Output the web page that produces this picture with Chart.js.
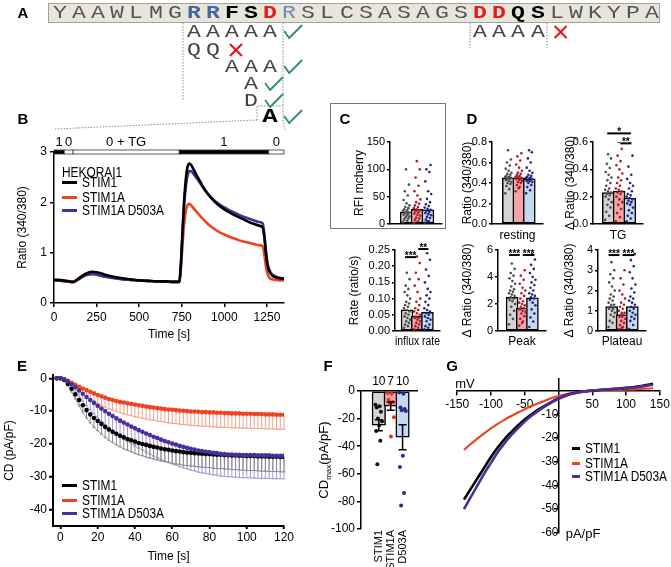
<!DOCTYPE html>
<html><head><meta charset="utf-8">
<script src="https://cdn.jsdelivr.net/npm/chart.js@4.4.1/dist/chart.umd.min.js"></script>
<style>
html,body{margin:0;padding:0;background:#fff;overflow:hidden}
#fig{position:relative;width:671px;height:567px;overflow:hidden;font-family:'Liberation Sans',Arial,sans-serif;color:#000}
.t{position:absolute;white-space:nowrap;line-height:1;font-size:14px;z-index:3}
.pl{position:absolute;font-weight:bold;font-size:15px;font-family:'Liberation Sans',Arial,sans-serif;line-height:1;transform:translate(-50%,-50%);z-index:3}
.seqbox{position:absolute;left:48px;top:3px;width:612px;height:20px;background:#e8e5da;border:1px solid #a5a399;box-sizing:border-box}
.lt{position:absolute;width:20px;height:24px;line-height:24px;text-align:center;font-family:'Liberation Mono','DejaVu Sans Mono',monospace;font-size:19px;color:#555;transform:scaleX(1.22);z-index:3}
.rr{color:#4767a0;font-weight:bold}
.bk{color:#000;font-weight:bold}
.rd{color:#e31b1b;font-weight:bold}
.rl{color:#7089b8}
.bA{color:#000;font-weight:bold;font-size:21px}
.lg{position:absolute;height:3px;z-index:3}
canvas{position:absolute;z-index:1}
</style></head>
<body>
<div id="fig">
<div class="seqbox"></div>
<div style="position:absolute;left:330px;top:103px;width:116px;height:126px;border:1px solid #777;box-sizing:border-box"></div>
<svg id="ov" width="671" height="567" style="position:absolute;left:0;top:0;z-index:2"></svg>
</div>
<script>
// ================= DATA =================
// Panel A
const seq = 'YAAWLMGRRFSDRSLCSASAGSDDQSLWKYPA';
const mutRows = [
  {aa:'AAAAA', start:7,  ok:true},
  {aa:'QQ',    start:7,  ok:false},
  {aa:'AAA',   start:9,  ok:true},
  {aa:'A',     start:10, ok:true},
  {aa:'D',     start:10, ok:true},
  {aa:'A',     start:11, ok:true},
  {aa:'AAAA',  start:22, ok:false}
];
// Panel B
const bTime  = [0,25,50,75,100,115,125,150,175,200,225,250,275,300,350,400,450,500,550,600,650,700,735,745,755,765,775,785,795,805,820,840,860,880,900,925,950,975,1000,1025,1050,1075,1100,1125,1150,1175,1200,1225,1235,1245,1255,1265,1280,1300,1325,1350];
const bStim1 = [0.46,0.46,0.45,0.44,0.42,0.42,0.44,0.50,0.56,0.60,0.62,0.61,0.59,0.56,0.52,0.49,0.47,0.45,0.44,0.43,0.43,0.42,0.42,0.80,1.50,2.10,2.50,2.72,2.77,2.74,2.65,2.52,2.40,2.28,2.18,2.08,1.99,1.92,1.86,1.81,1.76,1.72,1.68,1.64,1.60,1.57,1.54,1.50,1.30,0.95,0.72,0.62,0.55,0.51,0.49,0.48];
const bStim1A = [0.45,0.45,0.44,0.43,0.42,0.42,0.44,0.50,0.56,0.59,0.60,0.59,0.57,0.54,0.50,0.48,0.46,0.45,0.44,0.43,0.43,0.42,0.42,0.70,1.20,1.60,1.85,1.95,1.97,1.94,1.88,1.80,1.72,1.65,1.58,1.51,1.45,1.40,1.36,1.32,1.29,1.26,1.23,1.21,1.19,1.17,1.15,1.13,0.95,0.70,0.56,0.50,0.47,0.46,0.45,0.45];
const bD503A = [0.45,0.45,0.44,0.43,0.42,0.42,0.43,0.48,0.53,0.56,0.57,0.56,0.54,0.52,0.49,0.47,0.46,0.45,0.44,0.43,0.43,0.42,0.42,0.75,1.40,2.00,2.35,2.55,2.62,2.62,2.56,2.47,2.37,2.27,2.18,2.09,2.01,1.95,1.90,1.85,1.81,1.77,1.73,1.70,1.67,1.64,1.61,1.58,1.35,1.00,0.76,0.65,0.57,0.53,0.50,0.49];
const bXTicks = [0,250,500,750,1000,1250];
const bYTicks = [0,1,2,3];
const solEdges  = [0,60,112,735,1260,1350];
const solOn     = [1,0,0,1,0];
const solLabels = ['1','0','0 + TG','1','0'];
// Panel C
const cMeans = [22,27,26];
const cDots = [
  [3,6,8,10,12,14,15,17,18,20,21,22,24,25,27,29,31,34,38,44,52,60,72,100],
  [2,5,8,10,12,15,17,19,21,23,25,27,29,31,34,37,40,45,52,60,70,85,100,115],
  [2,5,8,11,13,16,18,20,22,24,26,28,30,33,36,40,46,55,60,78,95,100,108,5]
];
const cYTicks = [0,50,100,150];
// Panel D
const restMeans = [0.45,0.45,0.44];
const restDots = [
  [0.30,0.34,0.37,0.39,0.40,0.41,0.42,0.43,0.44,0.44,0.45,0.45,0.46,0.46,0.47,0.48,0.49,0.50,0.52,0.54,0.57,0.60,0.63,0.72],
  [0.32,0.36,0.38,0.40,0.41,0.42,0.43,0.44,0.44,0.45,0.45,0.46,0.46,0.47,0.48,0.49,0.50,0.52,0.55,0.58,0.62,0.66,0.69,0.35],
  [0.30,0.33,0.36,0.38,0.40,0.41,0.42,0.42,0.43,0.43,0.44,0.44,0.45,0.45,0.46,0.47,0.48,0.50,0.52,0.55,0.60,0.64,0.70,0.72]
];
const restYTicks = [0,0.2,0.4,0.6,0.8];
const tgMeans = [0.23,0.24,0.19];
const tgDots = [
  [0.03,0.06,0.09,0.12,0.14,0.16,0.18,0.20,0.21,0.22,0.23,0.24,0.25,0.26,0.28,0.30,0.32,0.34,0.36,0.38,0.41,0.44,0.48,0.51],
  [0.02,0.05,0.08,0.11,0.14,0.16,0.18,0.20,0.22,0.23,0.24,0.25,0.26,0.28,0.30,0.32,0.34,0.37,0.40,0.43,0.46,0.50,0.55,0.60],
  [0.02,0.04,0.06,0.08,0.10,0.12,0.14,0.15,0.16,0.17,0.18,0.19,0.20,0.21,0.22,0.24,0.26,0.28,0.30,0.33,0.36,0.42,0.50,0.60]
];
const tgYTicks = [0,0.2,0.4,0.6];
const tgSig = [{a:-0.1,b:2.1,y:0.663,t:'*'},{a:1.1,b:2.15,y:0.59,t:'**'}];
const rateMeans = [0.065,0.045,0.058];
const rateDots = [
  [0.010,0.015,0.020,0.025,0.030,0.035,0.040,0.045,0.050,0.055,0.060,0.065,0.070,0.075,0.080,0.085,0.090,0.100,0.110,0.120,0.130,0.140,0.160,0.180],
  [0.005,0.010,0.015,0.020,0.025,0.030,0.035,0.040,0.040,0.045,0.050,0.055,0.060,0.065,0.070,0.080,0.090,0.100,0.120,0.140,0.160,0.180,0.210,0.230],
  [0.005,0.010,0.015,0.020,0.030,0.035,0.040,0.045,0.050,0.055,0.060,0.065,0.070,0.080,0.090,0.100,0.110,0.120,0.130,0.150,0.170,0.190,0.220,0.240]
];
const rateYTicks = [0,0.05,0.10,0.15,0.20,0.25];
const rateSig = [{a:-0.2,b:0.9,y:0.228,t:'***'},{a:1.1,b:2.1,y:0.253,t:'**'}];
const peakMeans = [2.5,1.7,2.45];
const peakDots = [
  [0.5,0.9,1.2,1.5,1.8,2.0,2.2,2.3,2.4,2.5,2.6,2.7,2.8,2.9,3.0,3.1,3.3,3.5,3.7,3.9,4.1,4.3,4.6,5.0],
  [0.4,0.7,0.9,1.1,1.3,1.4,1.5,1.6,1.7,1.8,1.9,2.0,2.1,2.2,2.4,2.6,2.8,3.0,3.2,3.5,3.8,4.1,4.5,0.6],
  [0.3,0.7,1.0,1.3,1.6,1.9,2.1,2.3,2.4,2.5,2.6,2.7,2.8,3.0,3.2,3.4,3.6,3.8,4.0,4.3,4.6,4.9,5.3,5.7]
];
const peakYTicks = [0,2,4,6];
const peakSig = [{a:-0.3,b:0.75,y:5.63,t:'***'},{a:1.05,b:2.2,y:5.63,t:'***'}];
const platMeans = [1.2,0.8,1.2];
const platDots = [
  [0.2,0.4,0.5,0.7,0.8,0.9,1.0,1.1,1.1,1.2,1.3,1.3,1.4,1.5,1.6,1.7,1.8,2.0,2.2,2.4,2.6,2.8,3.0,3.4],
  [0.1,0.2,0.3,0.4,0.5,0.6,0.7,0.7,0.8,0.8,0.9,0.9,1.0,1.1,1.2,1.3,1.4,1.6,1.8,2.0,2.3,2.6,3.0,0.15],
  [0.1,0.3,0.5,0.6,0.7,0.8,0.9,1.0,1.1,1.2,1.3,1.4,1.5,1.6,1.7,1.9,2.1,2.3,2.6,2.9,3.2,3.5,3.8,4.0]
];
const platYTicks = [0,1,2,3,4];
const platSig = [{a:-0.3,b:0.75,y:3.75,t:'***'},{a:1.05,b:2.2,y:3.75,t:'***'}];
// Panel E
const eTime = [-2,0,2,4,6,8,10,12,14,16,18,20,22,24,26,28,30,32,34,36,38,40,42,44,46,48,50,52,54,56,58,60,62,64,66,68,70,72,74,76,78,80,82,84,86,88,90,92,94,96,98,100,102,104,106,108,110,112,114,116,118,120];
const eStim1 = [0,0,-0.5,-1.7,-3.2,-4.9,-6.6,-8.2,-9.7,-11.0,-12.1,-13.0,-13.9,-14.8,-15.6,-16.3,-16.9,-17.5,-18.0,-18.5,-18.9,-19.3,-19.7,-20.0,-20.3,-20.6,-20.9,-21.1,-21.4,-21.6,-21.8,-22.0,-22.2,-22.3,-22.5,-22.6,-22.7,-22.8,-22.9,-23.0,-23.1,-23.1,-23.2,-23.3,-23.3,-23.4,-23.4,-23.5,-23.5,-23.6,-23.6,-23.7,-23.7,-23.7,-23.8,-23.8,-23.8,-23.9,-23.9,-23.9,-24.0,-24.0];
const eStim1Sem = [0,0,0.3,0.6,1.0,1.4,1.8,2.1,2.4,2.6,2.8,3.0,3.1,3.2,3.3,3.3,3.4,3.4,3.5,3.5,3.5,3.6,3.6,3.6,3.7,3.7,3.7,3.8,3.8,3.8,3.8,3.9,3.9,3.9,4.0,4.0,4.0,4.0,4.1,4.1,4.1,4.1,4.2,4.2,4.2,4.2,4.3,4.3,4.3,4.3,4.4,4.4,4.4,4.4,4.4,4.5,4.5,4.5,4.5,4.5,4.5,4.5];
const eStim1A = [0,0,-0.3,-0.8,-1.4,-2.0,-2.6,-3.1,-3.6,-4.1,-4.6,-5.1,-5.5,-5.9,-6.3,-6.6,-6.9,-7.2,-7.4,-7.6,-7.8,-8.0,-8.2,-8.4,-8.6,-8.8,-8.9,-9.1,-9.2,-9.4,-9.5,-9.6,-9.7,-9.8,-9.9,-10.0,-10.1,-10.1,-10.2,-10.3,-10.3,-10.4,-10.4,-10.5,-10.5,-10.6,-10.6,-10.7,-10.7,-10.7,-10.8,-10.8,-10.8,-10.9,-10.9,-10.9,-11.0,-11.0,-11.0,-11.1,-11.1,-11.1];
const eStim1ASem = [0,0,0.2,0.5,0.8,1.1,1.4,1.7,1.9,2.1,2.3,2.5,2.7,2.9,3.0,3.1,3.2,3.3,3.4,3.5,3.6,3.7,3.7,3.8,3.8,3.9,3.9,4.0,4.0,4.0,4.1,4.1,4.1,4.2,4.2,4.2,4.2,4.3,4.3,4.3,4.3,4.3,4.4,4.4,4.4,4.4,4.4,4.4,4.4,4.4,4.4,4.4,4.4,4.4,4.4,4.4,4.4,4.4,4.4,4.4,4.4,4.4];
const eD503A = [0,0,-0.3,-1.0,-1.8,-2.7,-3.7,-4.7,-5.7,-6.6,-7.5,-8.4,-9.2,-10.0,-10.8,-11.5,-12.2,-12.9,-13.5,-14.1,-14.7,-15.2,-15.8,-16.3,-16.8,-17.3,-17.8,-18.2,-18.7,-19.1,-19.5,-19.9,-20.2,-20.6,-20.9,-21.2,-21.5,-21.7,-22.0,-22.2,-22.4,-22.5,-22.7,-22.8,-23.0,-23.1,-23.2,-23.2,-23.3,-23.3,-23.4,-23.4,-23.4,-23.4,-23.5,-23.5,-23.5,-23.5,-23.6,-23.6,-23.6,-23.6];
const eD503ASem = [0,0,0.3,0.7,1.1,1.5,1.9,2.3,2.7,3.0,3.3,3.6,3.9,4.1,4.3,4.5,4.7,4.9,5.0,5.2,5.3,5.4,5.5,5.6,5.7,5.8,5.9,6.0,6.0,6.1,6.2,6.2,6.3,6.3,6.4,6.4,6.5,6.5,6.6,6.6,6.6,6.7,6.7,6.7,6.8,6.8,6.8,6.8,6.9,6.9,6.9,6.9,6.9,7.0,7.0,7.0,7.0,7.0,7.0,7.0,7.0,7.0];
const eXTicks = [0,20,40,60,80,100,120];
const eYTicks = [-40,-30,-20,-10,0];
// Panel F
const fLabels = ['STIM1','STIM1A','D503A'];
const fMeans = [-24.8,-11,-33.5];
const fSem = [4,3,9];
const fN = [10,7,10];
const fDots = [
  [-10,-11,-12,-15,-20,-22,-25,-29,-36,-53],
  [-1.5,-2,-6.5,-8,-9.5,-19,-33],
  [-1,-2,-12,-13,-14,-14.5,-47,-55,-74,-83]
];
const fYTicks = [-100,-80,-60,-40,-20,0];
// Panel G
const gV = [-140,-130,-120,-110,-100,-90,-80,-70,-60,-50,-40,-30,-20,-10,0,10,20,30,40,50,60,70,80,90,100,110,120,130,140];
const gStim1 = [-46,-41.5,-37,-32.5,-28,-24,-20.5,-17.5,-14.7,-12.2,-10,-8,-6.3,-4.7,-3.3,-2.1,-1.2,-0.6,-0.2,0.1,0.3,0.5,0.7,0.9,1.2,1.5,1.9,2.4,2.9];
const gStim1A = [-25,-22.5,-20.2,-18,-15.9,-14,-12.3,-10.7,-9.2,-7.8,-6.5,-5.3,-4.2,-3.1,-2.2,-1.5,-1.0,-0.7,-0.4,-0.2,0,0.1,0.3,0.4,0.5,0.6,0.8,0.9,1.0];
const gD503A = [-50,-45,-40,-35,-30.5,-26,-22.2,-18.8,-15.8,-13,-10.6,-8.5,-6.6,-4.9,-3.4,-2.2,-1.3,-0.6,-0.2,0.1,0.3,0.5,0.7,0.9,1.1,1.4,1.7,2.1,2.5];
const gXTicks = [-150,-100,-50,50,100,150];
const gYTicks = [-60,-50,-40,-30,-20,-10];

// ================= STYLE / HELPERS =================
const FN = "'Liberation Sans',Arial,sans-serif";
const FS = 12;
const RED = '#f0421f', PUR = '#4a2e9c', BLK = '#000';
const BAR_FILL = ['#d4d4d4','#f4a4a4','#c4d8f2'];
const DOT_COL = ['#4d4d4d','#a3202c','#25257a'];
const F_DOT = ['#111111','#e8321e','#2f2590'];
Chart.defaults.font.family = FN;
Chart.defaults.font.size = FS;
Chart.defaults.color = '#000';
Chart.defaults.animation = false;

const fig = document.getElementById('fig');
const svg = document.getElementById('ov');
const NS = 'http://www.w3.org/2000/svg';
function sv(tag, attrs){ const e=document.createElementNS(NS,tag); for(const k in attrs) e.setAttribute(k,attrs[k]); svg.appendChild(e); return e; }
function div(cls, text, css){ const d=document.createElement('div'); d.className=cls; if(text!=null) d.textContent=text; d.style.cssText=css||''; fig.appendChild(d); return d; }
function place(left, top, width, height){
  const c=document.createElement('canvas'); c.width=width; c.height=height;
  c.style.left=left+'px'; c.style.top=top+'px'; c.style.width=width+'px'; c.style.height=height+'px';
  fig.appendChild(c); return c;
}
const jit = j => (((j*7)%12)/11 - 0.5);

function ax(o){
  const a = {
    type:'linear', axis:o.axis, position:o.position||(o.axis==='x'?'bottom':'left'), min:o.min, max:o.max,
    afterBuildTicks: s => { s.ticks = o.ticks.map(v=>({value:v})); },
    ticks:{ display:o.labels!==false, padding:o.pad!=null?o.pad:3, font:{size:o.tfs||FS}, callback:o.fmt||(v=>v), autoSkip:false,
            maxRotation:o.rot||0, minRotation:o.rot||0 },
    grid:{ display:true, drawOnChartArea:!!o.gridColor, color:o.gridColor||'rgba(0,0,0,0)', lineWidth:1.5,
           drawTicks:o.drawTicks!==false, tickLength:o.tl!=null?o.tl:4, tickColor:'#000', tickWidth:o.bw||1.5 },
    border:{ display:o.border!==false, color:'#000', width:o.bw||1.5 },
    title: o.title ? {display:true, text:o.title, font:{size:FS}, padding:{top:o.tpad||0, bottom:o.tpad||0}} : {display:false}
  };
  if (o.size!=null) a.afterFit = (o.axis==='x') ? (s=>{ s.height=o.size; }) : (s=>{ s.width=o.size; });
  return a;
}

const sigPlugin = { id:'sig', afterDraw(chart){
  const sig = chart.options.plugins.sig && chart.options.plugins.sig.items; if(!sig) return;
  const {ctx, scales:{x,y}} = chart;
  ctx.save(); ctx.strokeStyle='#000'; ctx.fillStyle='#000'; ctx.lineWidth=2;
  ctx.font='bold 10px '+FN; ctx.textAlign='center'; ctx.textBaseline='alphabetic';
  sig.forEach(s=>{ const x0=x.getPixelForValue(s.a), x1=x.getPixelForValue(s.b), py=y.getPixelForValue(s.y);
    ctx.beginPath(); ctx.moveTo(x0,py); ctx.lineTo(x1,py); ctx.stroke();
    ctx.fillText(s.t,(x0+x1)/2,py+2); });
  ctx.restore();
}};

function barPanel(o){
  const ds = o.dots.map((arr,g)=>({type:'scatter', order:1,
    data: arr.map((v,j)=>({x:g+jit(j)*0.6, y:v})), pointRadius:1.3, pointBorderWidth:0, borderWidth:0,
    backgroundColor:DOT_COL[g], pointHoverRadius:0}));
  ds.push({type:'bar', order:2, data:o.means.map((v,g)=>({x:g,y:v})), backgroundColor:BAR_FILL,
    borderColor:'#000', borderWidth:1.5, barThickness:12, borderSkipped:false});
  new Chart(place(o.left,o.top,o.width,o.height), {
    type:'scatter', data:{datasets:ds},
    options:{ responsive:false, animation:false,
      layout:{padding:{top:o.padTop, right:o.padRight, left:0, bottom:0}},
      scales:{
        x: ax({axis:'x', min:o.xmin, max:o.xmax, ticks:[0,1,2], labels:false, drawTicks:false, size:o.xH, title:o.xTitle}),
        y: ax({axis:'y', min:0, max:o.ymax, ticks:o.yTicks, fmt:o.fmt, size:o.yW, title:o.yTitle, tpad:o.tpad, tfs:11, pad:2, tl:3})
      },
      plugins:{legend:{display:false}, tooltip:{enabled:false}, sig:{items:o.sig||null}} },
    plugins:[sigPlugin]
  });
}

// ================= PANEL A =================
const seqClass = {7:'rr',8:'rr',9:'bk',10:'bk',11:'rd',12:'rl',22:'rd',23:'rd',24:'bk',25:'bk'};
const colX = i => 60 + 19.1*i;
for (let i=0;i<seq.length;i++){
  div('lt '+(seqClass[i]||''), seq[i], `left:${colX(i)-10}px;top:${13-12}px`);
}
const rowY = [32,50,67,84,101,117,32];
mutRows.forEach((r,ri)=>{
  for (let k=0;k<r.aa.length;k++){
    const cls = (ri===5) ? 'lt bA' : 'lt';
    div(cls, r.aa[k], `left:${colX(r.start+k)-10}px;top:${rowY[ri]-12}px;color:${ri===5?'#000':'#444'}`);
  }
  const cx = colX(r.start+r.aa.length) + 4, cy = rowY[ri];
  if (r.ok) sv('polyline',{points:`${cx-9},${cy-1} ${cx-4},${cy+6} ${cx+9},${cy-7}`, fill:'none', stroke:'#2f8a78','stroke-width':1.8});
  else { sv('line',{x1:cx-6,y1:cy-6,x2:cx+6,y2:cy+6,stroke:'#e5141b','stroke-width':2}); sv('line',{x1:cx+6,y1:cy-6,x2:cx-6,y2:cy+6,stroke:'#e5141b','stroke-width':2}); }
});
const dot = {stroke:'#8a8a8a','stroke-width':1,'stroke-dasharray':'1.5,1.5',fill:'none'};
[[183,23,183,100],[283,23,283,106],[470,23,470,48],[547,23,547,48]].forEach(l=>sv('line',Object.assign({x1:l[0],y1:l[1],x2:l[2],y2:l[3]},dot)));
sv('polyline',Object.assign({points:'257,120 257,106 283,106 283,123'},dot));
sv('line',Object.assign({x1:257,y1:120,x2:55,y2:129},dot));
sv('line',Object.assign({x1:283,y1:123,x2:285,y2:130},dot));

// panel letters
[['A',23,12],['B',23,118],['C',345,118],['D',472,118],['E',22,365],['F',328,365],['G',452,365]].forEach(p=>div('pl',p[0],`left:${p[1]}px;top:${p[2]}px`));

// ================= PANEL B =================
const solutionBar = { id:'sol', afterDraw(chart){
  const {ctx, chartArea, scales:{x}} = chart;
  ctx.save();
  for (let i=0;i<solOn.length;i++){
    const x0=x.getPixelForValue(solEdges[i]), x1=x.getPixelForValue(solEdges[i+1]);
    ctx.fillStyle = solOn[i] ? '#000' : '#fff';
    ctx.fillRect(x0, chartArea.top-2, x1-x0, 4);
    ctx.strokeStyle='#333'; ctx.lineWidth=0.8; ctx.strokeRect(x0, chartArea.top-2, x1-x0, 4);
    ctx.fillStyle='#000'; ctx.font='13px '+FN; ctx.textAlign='center'; ctx.textBaseline='middle';
    ctx.fillText(solLabels[i], (x0+x1)/2, chartArea.top-10);
  }
  ctx.restore();
}};
const lineDs = (xs, ys, col, w) => ({data:xs.map((t,i)=>({x:t,y:ys[i]})), borderColor:col, borderWidth:w, pointRadius:0, cubicInterpolationMode:'monotone', fill:false});
new Chart(place(0,128,296,215), {
  type:'line',
  data:{datasets:[ lineDs(bTime,bStim1,BLK,2.6), lineDs(bTime,bD503A,PUR,2.6), lineDs(bTime,bStim1A,RED,2.6) ]},
  options:{ responsive:false, animation:false, layout:{padding:{top:24,right:12,left:0,bottom:0}},
    scales:{
      x: ax({axis:'x', min:0, max:1350, ticks:bXTicks, size:40, title:'Time [s]', tpad:0.8}),
      y: ax({axis:'y', min:0, max:3, ticks:bYTicks, size:54, title:'Ratio (340/380)', tpad:15.8})
    },
    plugins:{legend:{display:false}, tooltip:{enabled:false}} },
  plugins:[solutionBar]
});
function legend(x, ys, entries, len, textX){
  entries.forEach((e,i)=>{
    div('lg', null, `left:${x}px;top:${ys[i]-1.5}px;width:${len}px;background:${e[1]}`);
    div('t', e[0], `left:${textX}px;top:${ys[i]}px;transform:translateY(-50%) scaleX(0.85);transform-origin:left center`);
  });
}
div('t','HEKORAI1','left:62px;top:172px;transform:translateY(-50%) scaleX(0.85);transform-origin:left center');
legend(62,[182,197,210],[['STIM1',BLK],['STIM1A',RED],['STIM1A D503A',PUR]],15,82);

// ================= PANEL C & D =================
barPanel({left:345, top:133, width:101, height:101, padTop:9, padRight:4, xH:10, yW:45,
  xmin:-0.7, xmax:2.5, ymax:150, yTicks:cYTicks, means:cMeans, dots:cDots, yTitle:'RFI mcherry', tpad:7.8});
barPanel({left:460, top:133, width:87, height:110, padTop:9, padRight:4, xH:19, yW:32,
  xmin:-0.75, xmax:2.5, ymax:0.8, yTicks:restYTicks, fmt:v=>v.toFixed(1), means:restMeans, dots:restDots,
  yTitle:'Ratio (340/380)', tpad:0, xTitle:'resting'});
barPanel({left:562, top:118, width:85, height:125, padTop:24, padRight:4, xH:19, yW:31,
  xmin:-0.65, xmax:2.45, ymax:0.6, yTicks:tgYTicks, fmt:v=>v.toFixed(1), means:tgMeans, dots:tgDots,
  yTitle:'\u0394 Ratio (340/380)', tpad:1, xTitle:'TG', sig:tgSig});
barPanel({left:345, top:232, width:99, height:117, padTop:18, padRight:4, xH:18, yW:50,
  xmin:-0.45, xmax:2.5, ymax:0.25, yTicks:rateYTicks, fmt:v=>v.toFixed(2), means:rateMeans, dots:rateDots,
  yTitle:'Rate (ratio/s)', tpad:2.8, xTitle:'influx rate', sig:rateSig});
barPanel({left:460, top:232, width:90, height:117, padTop:18, padRight:4, xH:18, yW:38,
  xmin:-0.6, xmax:2.55, ymax:6, yTicks:peakYTicks, means:peakMeans, dots:peakDots,
  yTitle:'\u0394 Ratio (340/380)', tpad:0, xTitle:'Peak', sig:peakSig});
barPanel({left:560, top:232, width:90, height:117, padTop:18, padRight:4, xH:18, yW:38,
  xmin:-0.55, xmax:2.55, ymax:4, yTicks:platYTicks, means:platMeans, dots:platDots,
  yTitle:'\u0394 Ratio (340/380)', tpad:2.8, xTitle:'Plateau', sig:platSig});

// ================= PANEL E =================
const semBars = { id:'sem', beforeDatasetsDraw(chart){
  const {ctx, scales:{x,y}} = chart;
  chart.data.datasets.forEach(ds=>{
    if(!ds.sem) return;
    ctx.save(); ctx.strokeStyle=ds.errColor; ctx.lineWidth=1;
    ctx.beginPath();
    ds.data.forEach((p,i)=>{ const px=x.getPixelForValue(p.x), py=y.getPixelForValue(p.y), pl=y.getPixelForValue(p.y-ds.sem[i]);
      ctx.moveTo(px,py); ctx.lineTo(px,pl); ctx.moveTo(px-1.5,pl); ctx.lineTo(px+1.5,pl); });
    ctx.stroke();
    ctx.beginPath();
    ds.data.forEach((p,i)=>{ const px=x.getPixelForValue(p.x), pl=y.getPixelForValue(p.y-ds.sem[i]); if(i) ctx.lineTo(px,pl); else ctx.moveTo(px,pl); });
    ctx.lineWidth=0.8; ctx.stroke();
    ctx.restore();
  });
}};
const ptDs = (ys, sem, col, ecol) => ({data:eTime.map((t,i)=>({x:t,y:ys[i]})), sem:sem, errColor:ecol,
  backgroundColor:col, pointRadius:2.3, pointBorderWidth:0, borderWidth:0, showLine:false});
new Chart(place(0,352,298,215), {
  type:'scatter',
  data:{datasets:[ ptDs(eD503A,eD503ASem,PUR,'#a497d8'), ptDs(eStim1,eStim1Sem,BLK,'#8a8a8a'), ptDs(eStim1A,eStim1ASem,RED,'#f5a08d') ]},
  options:{ responsive:false, animation:false, layout:{padding:{top:23,right:14,left:0,bottom:0}},
    scales:{
      x: ax({axis:'x', min:-4, max:120, ticks:eXTicks, size:41, title:'Time [s]', tpad:2.8, tl:3, pad:1, bw:2}),
      y: ax({axis:'y', min:-45, max:1, ticks:eYTicks, size:53, title:'CD (pA/pF)', tpad:2.8, pad:2, bw:2})
    },
    plugins:{legend:{display:false}, tooltip:{enabled:false}} },
  plugins:[semBars]
});
legend(62,[485,500,513],[['STIM1',BLK],['STIM1A',RED],['STIM1A D503A',PUR]],15,82);

// ================= PANEL F =================
const fPlugin = { id:'ferr', afterDatasetsDraw(chart){
  const {ctx, chartArea, scales:{x,y}} = chart;
  ctx.save(); ctx.strokeStyle='#000'; ctx.lineWidth=1.5;
  fMeans.forEach((m,g)=>{ const px=x.getPixelForValue(g), a=y.getPixelForValue(m-fSem[g]), b=y.getPixelForValue(m+fSem[g]);
    ctx.beginPath(); ctx.moveTo(px,a); ctx.lineTo(px,b); ctx.moveTo(px-4,a); ctx.lineTo(px+4,a); ctx.moveTo(px-4,b); ctx.lineTo(px+4,b); ctx.stroke(); });
  ctx.fillStyle='#000'; ctx.font='12px '+FN; ctx.textAlign='center'; ctx.textBaseline='middle';
  fN.forEach((n,g)=>ctx.fillText(String(n), x.getPixelForValue(g), chartArea.top-9));
  ctx.restore();
}};
const fDs = fDots.map((arr,g)=>({type:'scatter', order:1, data:arr.map((v,j)=>({x:g+jit(j)*0.55, y:v})),
  pointRadius:2, pointBorderWidth:0, borderWidth:0, backgroundColor:F_DOT[g]}));
fDs.push({type:'bar', order:2, data:fMeans.map((v,g)=>({x:g,y:v})), backgroundColor:BAR_FILL, borderColor:'#000', borderWidth:1.5, barThickness:13.5, borderSkipped:false});
new Chart(place(330,370,93,197), {
  type:'scatter', data:{datasets:fDs},
  options:{ responsive:false, animation:false, layout:{padding:{top:21,right:5,left:0,bottom:0}},
    scales:{
      x: ax({axis:'x', min:-0.7, max:2.5, ticks:[0,1,2], fmt:v=>fLabels[v], rot:90, drawTicks:false, border:false, size:38, pad:1, tfs:11}),
      y: ax({axis:'y', min:-100, max:0, ticks:fYTicks, size:31, pad:2, gridColor:c=>(c.tick&&c.tick.value===0)?'#000':'rgba(0,0,0,0)'})
    },
    plugins:{legend:{display:false}, tooltip:{enabled:false}} },
  plugins:[fPlugin]
});
div('t', null, 'left:325px;top:460px;font-size:13px;transform:translate(-50%,-50%) rotate(-90deg)').innerHTML='CD<sub style="font-size:8px">max</sub>(pA/pF)';

// ================= PANEL G =================
const gDs = (ys,col,w)=>({data:gV.map((v,i)=>({x:v,y:ys[i]})), borderColor:col, borderWidth:w, pointRadius:0, tension:0.4, fill:false});
new Chart(place(440,360,240,207), {
  type:'line',
  data:{datasets:[ gDs(gD503A,PUR,2.6), gDs(gStim1,BLK,2.6), gDs(gStim1A,RED,2.2) ]},
  options:{ responsive:false, animation:false, layout:{padding:{top:18.9,right:20.2,left:17.2,bottom:34.3}},
    scales:{
      x: ax({axis:'x', position:{y:0}, min:-150, max:150, ticks:gXTicks, pad:3}),
      y: ax({axis:'y', position:{x:0}, min:-60, max:5, ticks:gYTicks, pad:3})
    },
    plugins:{legend:{display:false}, tooltip:{enabled:false}} }
});
div('t','mV','left:465px;top:383px;font-size:13px;transform:translate(-50%,-50%)');
div('t','pA/pF','left:583px;top:533px;font-size:13px;transform:translate(-50%,-50%)');
legend(572,[448,463,476],[['STIM1',BLK],['STIM1A',RED],['STIM1A D503A',PUR]],8,585);
</script>
</body></html>
